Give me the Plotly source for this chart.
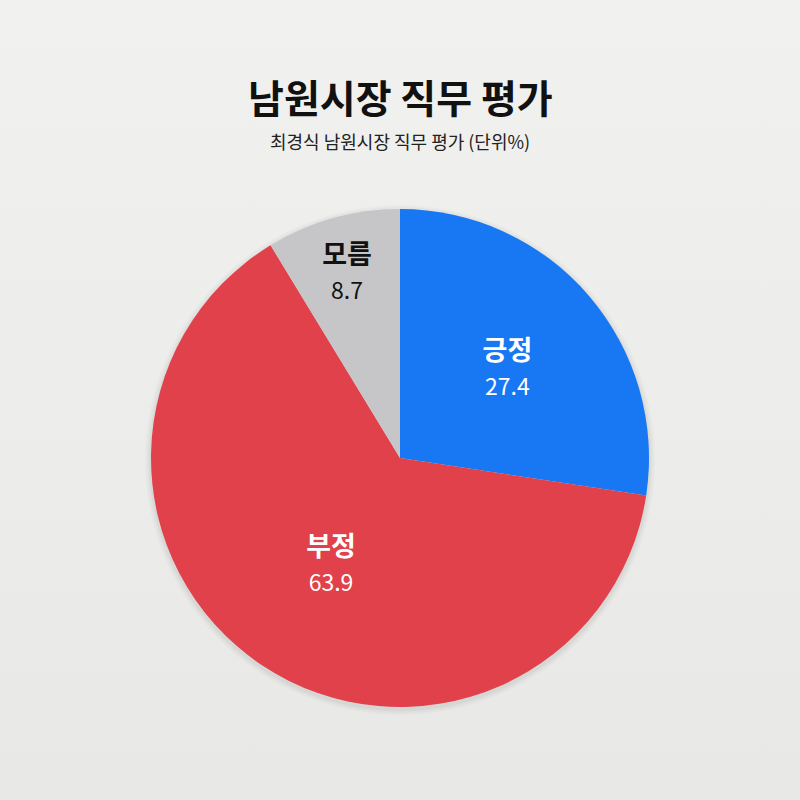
import plotly.graph_objects as go

labels = ["긍정", "부정", "모름"]
values = [27.4, 63.9, 8.7]
colors = ["#1877F2", "#E0414A", "#C6C6C8"]
text_colors = ["white", "white", "#111111"]

title = "남원시장 직무 평가"
subtitle = "최경식 남원시장 직무 평가 (단위%)"

font_family = "Noto Sans CJK KR"

# pie placement in paper coords (pixels of an 800x800 canvas)
px_left, px_right, px_top, px_bottom = 151, 649, 209, 707


def dom(pad, dy=0):
    return dict(
        x=[(px_left - pad) / 800, (px_right + pad) / 800],
        y=[1 - (px_bottom + pad + dy) / 800, 1 - (px_top - pad + dy) / 800],
    )


fig = go.Figure()

# background: light vertical gradient
fig.add_trace(go.Scatter(
    x=[0, 1, 1, 0, 0],
    y=[0, 0, 1, 1, 0],
    mode="none",
    fill="toself",
    fillgradient=dict(type="vertical", start=0, stop=1,
                      colorscale=[[0, "#E8E8E6"], [1, "#F1F1EF"]]),
    hoverinfo="skip",
    showlegend=False,
))

# soft shadow behind the pie
for pad, alpha in [(6, 0.018), (4, 0.025), (2, 0.035)]:
    fig.add_trace(go.Pie(
        values=[1],
        marker=dict(colors=["rgba(0,0,0,%s)" % alpha], line=dict(width=0)),
        textinfo="none",
        hoverinfo="skip",
        domain=dom(pad, 2),
        showlegend=False,
    ))

fig.add_trace(go.Pie(
    labels=labels,
    values=values,
    sort=False,
    direction="clockwise",
    rotation=0,
    marker=dict(colors=colors, line=dict(width=0)),
    texttemplate="<b>%{label}</b><br><span style='font-size:23px'>%{value}</span>",
    textposition="inside",
    insidetextorientation="horizontal",
    textfont=dict(family=font_family, size=27, color=text_colors),
    domain=dom(0),
    showlegend=False,
    hoverinfo="label+value",
))

fig.update_layout(
    width=800,
    height=800,
    margin=dict(l=0, r=0, t=0, b=0),
    paper_bgcolor="#EDEDEB",
    plot_bgcolor="rgba(0,0,0,0)",
    font=dict(family=font_family),
    xaxis=dict(range=[0, 1], visible=False, fixedrange=True),
    yaxis=dict(range=[0, 1], visible=False, fixedrange=True),
    annotations=[
        dict(text="<b>" + title + "</b>", x=0.5, y=1 - 96 / 800, xref="paper", yref="paper",
             showarrow=False, font=dict(size=39, color="#111111", family=font_family),
             xanchor="center", yanchor="middle"),
        dict(text=subtitle, x=0.5, y=1 - 141 / 800, xref="paper", yref="paper",
             showarrow=False, font=dict(size=18, color="#222222", family=font_family),
             xanchor="center", yanchor="middle"),
    ],
)

fig.write_html("out.html", config={"displayModeBar": False},
               post_script="document.body.style.margin='0';")
